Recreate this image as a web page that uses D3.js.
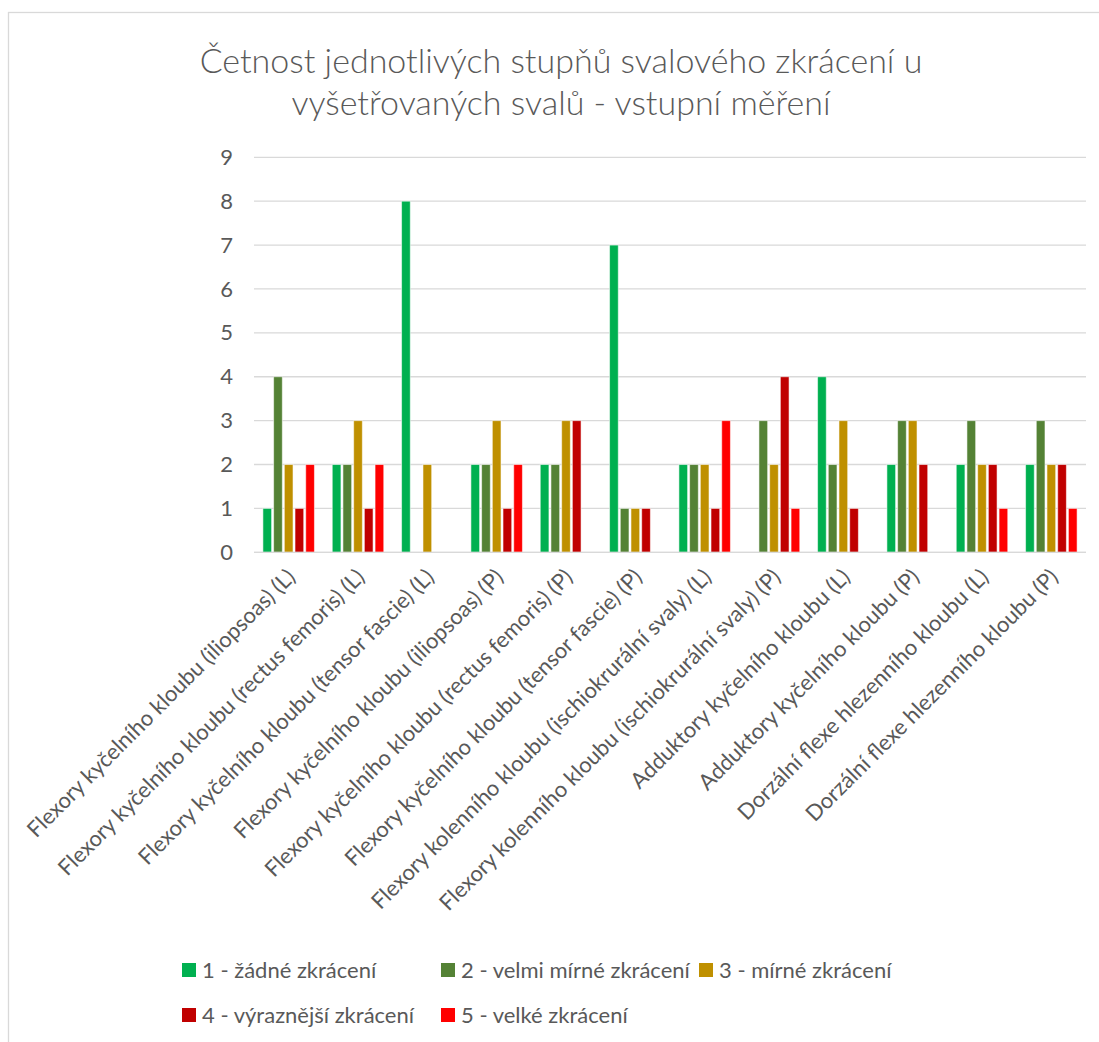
<!DOCTYPE html>
<html>
<head>
<meta charset="utf-8">
<script src="https://cdn.jsdelivr.net/npm/d3@7"></script>
<style>
  html, body { margin: 0; padding: 0; background: #fff; }
  svg { display: block; font-family: Lato, "Open Sans", sans-serif; }
</style>
</head>
<body>
<svg id="chart" width="1099" height="1042"></svg>
<script>
// Measured muscles (categories on the x axis)
const categories = [
  "Flexory kyčelního kloubu (iliopsoas) (L)",
  "Flexory kyčelního kloubu (rectus femoris) (L)",
  "Flexory kyčelního kloubu (tensor fascie) (L)",
  "Flexory kyčelního kloubu (iliopsoas) (P)",
  "Flexory kyčelního kloubu (rectus femoris) (P)",
  "Flexory kyčelního kloubu (tensor fascie) (P)",
  "Flexory kolenního kloubu (ischiokrurální svaly) (L)",
  "Flexory kolenního kloubu (ischiokrurální svaly) (P)",
  "Adduktory kyčelního kloubu (L)",
  "Adduktory kyčelního kloubu (P)",
  "Dorzální flexe hlezenního kloubu (L)",
  "Dorzální flexe hlezenního kloubu (P)"
];

// Shortening grades (series)
const seriesNames = [
  "1 - žádné zkrácení",
  "2 - velmi mírné zkrácení",
  "3 - mírné zkrácení",
  "4 - výraznější zkrácení",
  "5 - velké zkrácení"
];

// Counts per grade, one value per muscle
const grade1 = [1, 2, 8, 2, 2, 7, 2, 0, 4, 2, 2, 2];
const grade2 = [4, 2, 0, 2, 2, 1, 2, 3, 2, 3, 3, 3];
const grade3 = [2, 3, 2, 3, 3, 1, 2, 2, 3, 3, 2, 2];
const grade4 = [1, 1, 0, 1, 3, 1, 1, 4, 1, 2, 2, 2];
const grade5 = [2, 2, 0, 2, 0, 0, 3, 1, 0, 0, 1, 1];

const yTicks = [0, 1, 2, 3, 4, 5, 6, 7, 8, 9];

const titleLines = [
  "Četnost jednotlivých stupňů svalového zkrácení u",
  "vyšetřovaných svalů - vstupní měření"
];

const colors = ["#00B050", "#548235", "#BF9000", "#C00000", "#FF0000"];

const allSeries = [grade1, grade2, grade3, grade4, grade5];
const rows = categories.map((c, i) => ({
  category: c,
  values: allSeries.map((s, k) => ({ key: k, value: s[i] }))
}));

const svg = d3.select("#chart");
const textColor = "#595959";
const gridColor = "#d9d9d9";
const fontStack = "Lato, 'Open Sans', sans-serif";

// Outer chart frame
svg.append("rect")
  .attr("x", 8.5).attr("y", 12.5)
  .attr("width", 1200).attr("height", 1200)
  .attr("fill", "#fff")
  .attr("stroke", gridColor)
  .attr("stroke-width", 1.3);

// Title
const title = svg.append("text")
  .attr("text-anchor", "middle")
  .attr("fill", textColor)
  .style("font-size", "34px")
  .style("font-weight", 300);
title.selectAll("tspan")
  .data(titleLines)
  .join("tspan")
  .attr("x", 561)
  .attr("y", (d, i) => 73 + i * 42)
  .text(d => d);

// Scales
const plot = { left: 254, right: 1086, top: 157.3, bottom: 552.3 };

const x0 = d3.scaleBand()
  .domain(categories)
  .range([plot.left, plot.right])
  .paddingInner(0.257)
  .paddingOuter(0.1285);

const x1 = d3.scaleBand()
  .domain(d3.range(seriesNames.length))
  .range([0, x0.bandwidth()])
  .paddingInner(0.187);

const y = d3.scaleLinear()
  .domain([0, 9])
  .range([plot.bottom, plot.top]);

// Horizontal gridlines
svg.append("g")
  .selectAll("line")
  .data(yTicks)
  .join("line")
  .attr("x1", plot.left).attr("x2", plot.right)
  .attr("y1", d => y(d)).attr("y2", d => y(d))
  .attr("stroke", gridColor)
  .attr("stroke-width", 1.3);

// Y axis labels
const yAxis = svg.append("g")
  .attr("transform", `translate(${plot.left},0)`)
  .call(d3.axisLeft(y).tickValues(yTicks).tickSize(0).tickPadding(21).tickFormat(d3.format("d")));
yAxis.select(".domain").remove();
yAxis.selectAll("text")
  .attr("fill", textColor)
  .style("font-size", "22px")
  .style("font-family", fontStack);

// Bars
const groups = svg.append("g")
  .selectAll("g")
  .data(rows)
  .join("g")
  .attr("transform", d => `translate(${x0(d.category)},0)`);

groups.selectAll("rect")
  .data(d => d.values.filter(v => v.value > 0))
  .join("rect")
  .attr("x", d => x1(d.key))
  .attr("width", x1.bandwidth())
  .attr("y", d => y(d.value))
  .attr("height", d => y(0) - y(d.value))
  .attr("fill", d => colors[d.key])
  .attr("stroke", "#fff")
  .attr("stroke-opacity", 0.55)
  .attr("stroke-width", 1);

// Axis baseline
svg.append("line")
  .attr("x1", plot.left).attr("x2", plot.right)
  .attr("y1", y(0)).attr("y2", y(0))
  .attr("stroke", gridColor)
  .attr("stroke-width", 1.3);

// Category labels, rotated
const xAxis = svg.append("g")
  .attr("transform", `translate(0,${plot.bottom})`)
  .call(d3.axisBottom(x0).tickSize(0).tickPadding(0));
xAxis.select(".domain").remove();
xAxis.selectAll(".tick text")
  .attr("fill", textColor)
  .style("font-size", "22px")
  .style("font-family", fontStack)
  .attr("text-anchor", "end")
  .attr("dy", 0)
  .attr("transform", "translate(8,26) rotate(-45)");

// Legend
const legendCols = [182, 441, 699];
const legendRows = [970, 1015];
const legend = svg.append("g")
  .selectAll("g")
  .data(seriesNames)
  .join("g")
  .attr("transform", (d, i) => `translate(${legendCols[i % 3]},${legendRows[Math.floor(i / 3)]})`);
legend.append("rect")
  .attr("x", 0).attr("y", -7)
  .attr("width", 14).attr("height", 14)
  .attr("fill", (d, i) => colors[i]);
legend.append("text")
  .attr("x", 20)
  .attr("dy", "0.35em")
  .attr("fill", textColor)
  .style("font-size", "22px")
  .text(d => d);
</script>
</body>
</html>
